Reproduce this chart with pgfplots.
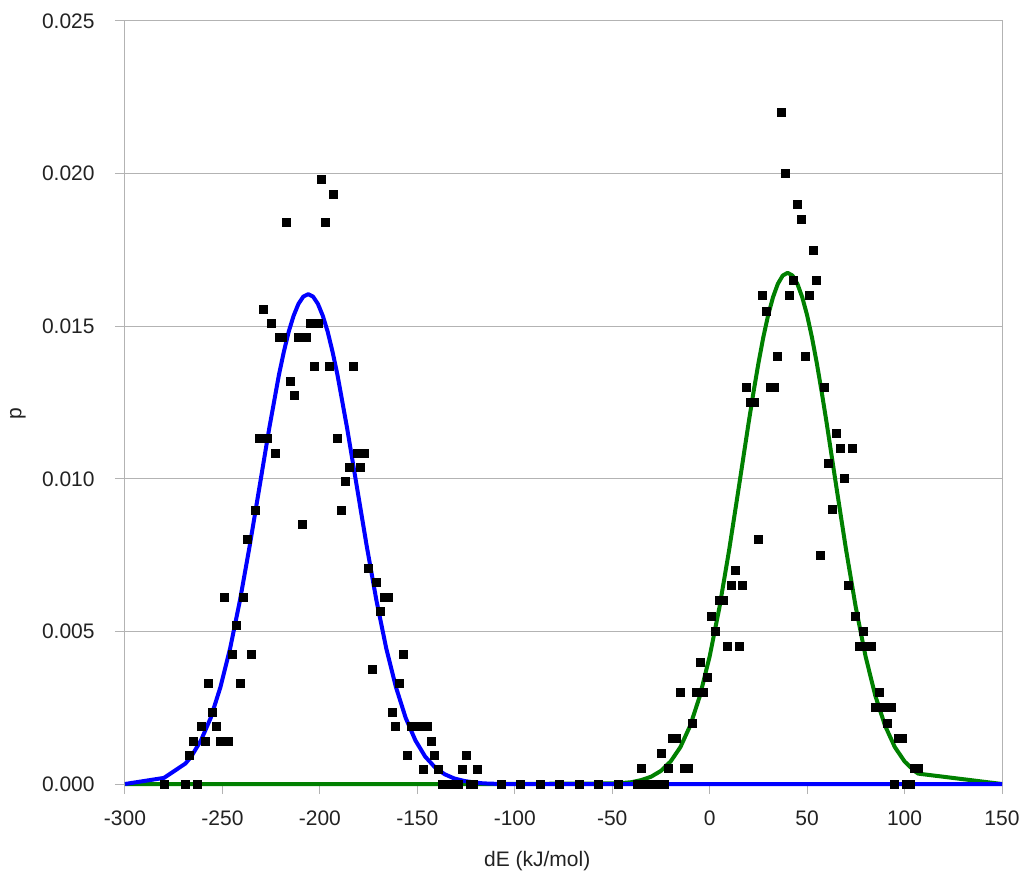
\documentclass[border=0pt]{standalone}
\usepackage{pgfplots}
\pgfplotsset{compat=1.18}
\usepackage{fontspec}
\setmainfont{Liberation Sans}
\definecolor{gridgray}{HTML}{B3B3B3}
\definecolor{txt}{HTML}{222222}
\definecolor{curveblue}{HTML}{0000FF}
\definecolor{curvegreen}{HTML}{008000}
\begin{document}
\begin{tikzpicture}
\begin{axis}[
  at={(0,0)}, anchor=south west,
  scale only axis, width=438.5bp, height=381.5bp,
  xmin=-300, xmax=150, ymin=0, ymax=0.025,
  xtick={-300,-250,-200,-150,-100,-50,0,50,100,150},
  xticklabels={-300,-250,-200,-150,-100,-50,0,50,100,150},
  ytick={0,0.005,0.01,0.015,0.02,0.025},
  yticklabels={0.000,0.005,0.010,0.015,0.020,0.025},
  tick align=outside, major tick length=5bp,
  xtick pos=bottom, ytick pos=left,
  every tick/.style={gridgray, line width=0.5bp},
  axis line style={gridgray, line width=0.5bp},
  ymajorgrids, grid style={gridgray, line width=0.5bp},
  font=\fontsize{10.5bp}{12.5bp}\selectfont,
  tick label style={text=txt},
  label style={text=txt},
  xticklabel style={anchor=north, inner sep=0pt, yshift=-8bp},
  yticklabel style={anchor=east, inner sep=0pt, xshift=-10bp},
  xlabel={dE (kJ/mol)}, ylabel={p},
  xlabel style={at={(axis description cs:0.47,0)}, anchor=base, yshift=-41bp},
  ylabel style={at={(axis description cs:0,0.486)}, anchor=center, yshift=53.5bp},
  clip=false,
]
% green fitted curve
\addplot[curvegreen, line width=2bp, line join=round, mark=none] coordinates {
(-300,0) (-107,0) (-47,0.00002) (-40,0.00006) (-35,0.00013) (-30,0.00024) (-25,0.00043)
(-20,0.00074) (-15,0.00121) (-10,0.00191) (-5,0.00289) (0,0.00418) (5,0.00578) (10,0.00767)
(15,0.00974) (17.5,0.01079) (20,0.01184) (22.5,0.01284) (25,0.01378) (27.5,0.01463) (30,0.01536)
(32.5,0.01595) (35,0.01639) (37.5,0.01666) (40,0.01675) (42.5,0.01666) (45,0.01639)
(47.5,0.01595) (50,0.01536) (52.5,0.01463) (55,0.01378) (57.5,0.01284) (60,0.01184)
(62.5,0.01079) (65,0.00974) (70,0.00767) (75,0.00578) (80,0.00418) (85,0.00289) (90,0.00191)
(95,0.00121) (100,0.00074) (105,0.00043) (107,0.00034) (150,0)
};
% blue fitted curve
\addplot[curveblue, line width=2bp, line join=round, mark=none] coordinates {
(-300,0) (-280,0.00020) (-269,0.00067) (-266,0.00090) (-261,0.00143) (-256,0.00217)
(-251,0.00318) (-246,0.00446) (-241,0.00602) (-236,0.00781) (-231,0.00973) (-226,0.01165)
(-221,0.01341) (-218.5,0.01416) (-216,0.01482) (-213.5,0.01534) (-211,0.01573) (-208.5,0.01597)
(-206,0.01605) (-203.5,0.01597) (-201,0.01573) (-198.5,0.01534) (-196,0.01482) (-193.5,0.01416)
(-191,0.01341) (-186,0.01165) (-181,0.00973) (-176,0.00781) (-171,0.00602) (-166,0.00446)
(-161,0.00318) (-156,0.00217) (-151,0.00143) (-146,0.00090) (-141,0.00055) (-136,0.00032)
(-131,0.00018) (-126,0.00010) (-121,0.00005) (-116,0.00002) (-107,0) (150,0)
};
% left histogram points
\addplot[only marks, mark=square*, mark size=2bp, black] coordinates {
(-280,0) (-269,0) (-267,0.00094) (-265,0.00141) (-263,0) (-261,0.00189) (-259,0.00141)
(-257,0.00330) (-255,0.00236) (-253,0.00189) (-251,0.00141) (-249,0.00613) (-247,0.00141)
(-245,0.00424) (-243,0.00519) (-241,0.00330) (-239,0.00613) (-237,0.00802) (-235,0.00424)
(-233,0.00896) (-231,0.01132) (-229,0.01556) (-227,0.01132) (-225,0.01509) (-223,0.01084)
(-221,0.01462) (-219,0.01462) (-217,0.01839) (-215,0.01320) (-213,0.01273) (-211,0.01462)
(-209,0.00849) (-207,0.01462) (-205,0.01509) (-203,0.01367) (-201,0.01509) (-199,0.01980)
(-197,0.01839) (-195,0.01367) (-193,0.01933) (-191,0.01132) (-189,0.00896) (-187,0.00990)
(-185,0.01037) (-183,0.01367) (-181,0.01084) (-179,0.01037) (-177,0.01084) (-175,0.00707)
(-173,0.00377) (-171,0.00660) (-169,0.00566) (-167,0.00613) (-165,0.00613) (-163,0.00236)
(-161,0.00189) (-159,0.00330) (-157,0.00424) (-155,0.00094) (-153,0.00189) (-149,0.00189)
(-147,0.00047) (-145,0.00189) (-143,0.00141) (-141,0.00094) (-139,0.00047)
(-137,0) (-135,0) (-133,0) (-131,0) (-129,0) (-127,0.00047) (-125,0.00094)
(-123,0) (-121,0) (-119,0.00047)
};
% zero points in between
\addplot[only marks, mark=square*, mark size=2bp, black] coordinates {
(-107,0) (-97,0) (-87,0) (-77,0) (-67,0) (-57,0) (-47,0)
};
% right histogram points
\addplot[only marks, mark=square*, mark size=2bp, black] coordinates {
(-37,0) (-35,0) (-33,0) (-31,0) (-29,0) (-27,0) (-25,0) (-23,0)
(-35,0.0005) (-25,0.001) (-21,0.0005) (-19,0.0015) (-17,0.0015) (-15,0.003) (-13,0.0005)
(-11,0.0005) (-9,0.002) (-7,0.003) (-5,0.004) (-3,0.003) (-1,0.0035) (1,0.0055) (3,0.005)
(5,0.006) (7,0.006) (9,0.0045) (11,0.0065) (13,0.007) (15,0.0045) (17,0.0065) (19,0.013)
(21,0.0125) (23,0.0125) (25,0.008) (27,0.016) (29,0.0155) (31,0.013) (33,0.013) (35,0.014)
(37,0.022) (39,0.020) (41,0.016) (43,0.0165) (45,0.019) (47,0.0185) (49,0.014) (51,0.016)
(53,0.0175) (55,0.0165) (57,0.0075) (59,0.013) (61,0.0105) (63,0.009) (65,0.0115) (67,0.011)
(69,0.010) (71,0.0065) (73,0.011) (75,0.0055) (77,0.0045) (79,0.005) (81,0.0045) (83,0.0045)
(85,0.0025) (87,0.003) (89,0.0025) (91,0.002) (93,0.0025) (95,0) (97,0.0015) (99,0.0015)
(101,0) (103,0) (105,0.0005) (107,0.0005)
};
\end{axis}
\pgfresetboundingbox
\path[use as bounding box] (-62.5bp,-44bp) rectangle (449bp,392bp);
\end{tikzpicture}
\end{document}
